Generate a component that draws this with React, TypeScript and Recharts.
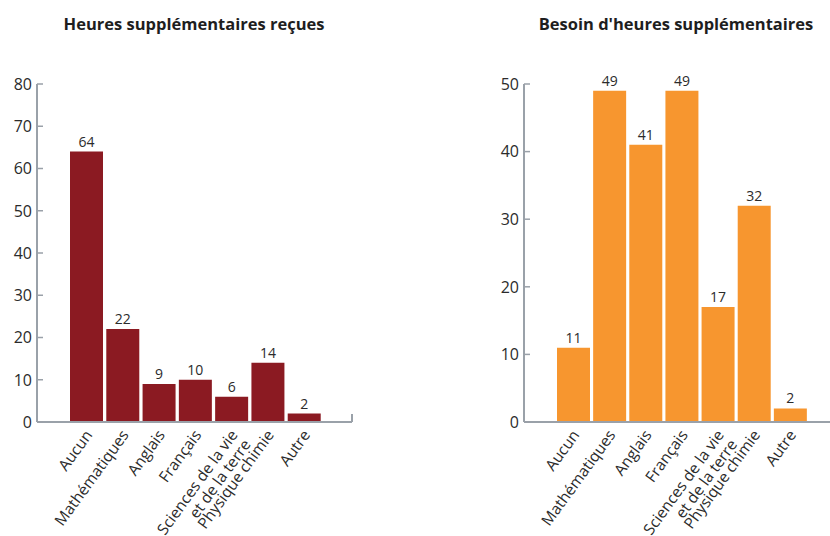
import React from 'react';
import { BarChart, Bar, XAxis, YAxis, LabelList } from 'recharts';

const categories = [
  'Aucun',
  'Mathématiques',
  'Anglais',
  'Français',
  'Sciences de la vie\net de la terre',
  'Physique chimie',
  'Autre',
];
const heuresRecues = [64, 22, 9, 10, 6, 14, 2];
const besoinHeures = [11, 49, 41, 49, 17, 32, 2];
const leftTicks = [0, 10, 20, 30, 40, 50, 60, 70, 80];
const rightTicks = [0, 10, 20, 30, 40, 50];

const AXIS_GREY = '#9aa1a9';
const TEXT = '#2b2b2b';
const FONT = '"Open Sans", "Noto Sans", sans-serif';

const leftData = categories.map((name, i) => ({ name, value: heuresRecues[i] }));
const rightData = categories.map((name, i) => ({ name, value: besoinHeures[i] }));

function YTick(props: any) {
  const { x, y, payload } = props;
  return (
    <g>
      <line x1={x} x2={x + 6} y1={y} y2={y} stroke={AXIS_GREY} strokeWidth={1.5} />
      <text x={x - 5} y={y} dy="0.36em" textAnchor="end" fontSize={16} fill={TEXT} fontFamily={FONT}>
        {payload.value}
      </text>
    </g>
  );
}

function XTick(props: any) {
  const { x, y, payload } = props;
  const lines = String(payload.value).split('\n');
  return (
    <g transform={`translate(${x + 7},${y + 13}) rotate(-54)`}>
      <text textAnchor="end" fontSize={15.5} fill={TEXT} fontFamily={FONT}>
        {lines.map((l, i) => (
          <tspan key={i} x={0} dy={i === 0 ? 0 : '1.05em'}>
            {l}
          </tspan>
        ))}
      </text>
    </g>
  );
}

interface PanelProps {
  data: { name: string; value: number }[];
  ticks: number[];
  color: string;
  yWidth: number;
  right: number;
  padding: { left: number; right: number };
}

function Panel({ data, ticks, color, yWidth, right, padding }: PanelProps) {
  return (
    <BarChart
      width={415}
      height={536}
      data={data}
      margin={{ top: 84, right, left: 0, bottom: 0 }}
      barSize={33}
    >
      <XAxis
        dataKey="name"
        interval={0}
        height={114}
        padding={padding}
        axisLine={{ stroke: AXIS_GREY, strokeWidth: 2 }}
        tickLine={false}
        tickSize={0}
        tickMargin={0}
        tick={<XTick />}
      />
      <YAxis
        width={yWidth}
        domain={[0, ticks[ticks.length - 1]]}
        ticks={ticks}
        interval={0}
        axisLine={{ stroke: AXIS_GREY, strokeWidth: 2 }}
        tickLine={false}
        tickSize={0}
        tickMargin={0}
        tick={<YTick />}
      />
      <Bar dataKey="value" fill={color} isAnimationActive={false}>
        <LabelList dataKey="value" position="top" offset={5} fontSize={14} fill={TEXT} fontFamily={FONT} />
      </Bar>
    </BarChart>
  );
}

const titleStyle: React.CSSProperties = {
  position: 'absolute',
  top: 12,
  fontFamily: FONT,
  fontWeight: 700,
  fontSize: 16.5,
  color: '#1e1e1e',
  textAlign: 'center',
  whiteSpace: 'nowrap',
};

export default function App() {
  return (
    <div style={{ position: 'absolute', left: 0, top: 0, width: 830, height: 536, background: '#fff', overflow: 'hidden' }}>
      <div style={{ ...titleStyle, left: 0, width: 388 }}>Heures supplémentaires reçues</div>
      <div style={{ ...titleStyle, left: 478, width: 396 }}>Besoin d'heures supplémentaires</div>
      <div style={{ position: 'absolute', left: 0, top: 0 }}>
        <Panel data={leftData} ticks={leftTicks} color="#8b1a22" yWidth={37} right={63} padding={{ left: 31, right: 30 }} />
      </div>
      {/* small closing tick at the right end of the left x axis */}
      <div style={{ position: 'absolute', left: 351, top: 414, width: 2, height: 8, background: AXIS_GREY }} />
      <div style={{ position: 'absolute', left: 415, top: 0 }}>
        <Panel data={rightData} ticks={rightTicks} color="#f7962f" yWidth={109} right={0} padding={{ left: 31, right: 22 }} />
      </div>
    </div>
  );
}
